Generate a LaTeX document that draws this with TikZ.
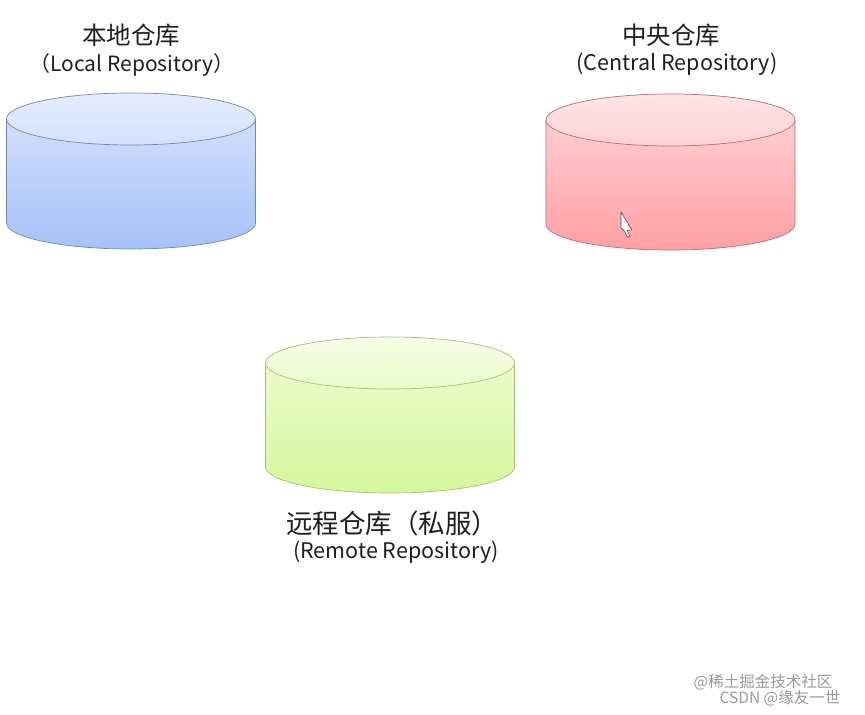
\documentclass[tikz,border=0pt]{standalone}
\usepackage{fontspec}
\setmainfont{Noto Sans CJK SC}
\definecolor{bbt}{RGB}{216,228,252}
\definecolor{bbb}{RGB}{166,194,248}
\definecolor{bet}{RGB}{229,237,253}
\definecolor{beb}{RGB}{212,225,252}
\definecolor{bl}{RGB}{118,134,170}
\definecolor{rbt}{RGB}{255,214,217}
\definecolor{rbb}{RGB}{255,160,163}
\definecolor{ret}{RGB}{255,228,231}
\definecolor{reb}{RGB}{255,210,213}
\definecolor{rl}{RGB}{176,112,118}
\definecolor{gbt}{RGB}{240,251,212}
\definecolor{gbb}{RGB}{212,247,156}
\definecolor{get}{RGB}{247,253,228}
\definecolor{geb}{RGB}{236,251,205}
\definecolor{gl}{RGB}{168,190,122}
\newcommand\repocyl[4]{%
  \shade[top color=#2bt, bottom color=#2bb]
    (#1-124.5,#3) -- ++(0,-104)
    arc[start angle=180,end angle=360,x radius=124.5pt,y radius=26pt]
    -- ++(0,104)
    arc[start angle=0,end angle=180,x radius=124.5pt,y radius=26pt] -- cycle;
  \draw[cyledge, draw=#2l]
    (#1-124.5,#3) -- ++(0,-104)
    arc[start angle=180,end angle=360,x radius=124.5pt,y radius=26pt]
    -- ++(0,104);
  \shade[top color=#2et, bottom color=#2eb, draw=#2l, cyledge]
    (#1,#3) ellipse[x radius=124.5pt,y radius=26pt];
  \coordinate (#4) at (#1,#3-52);
}
\begin{document}
\begin{tikzpicture}[x=1pt,y=1pt,
  cyledge/.style={line width=0.7pt},
  title/.style={font=\fontsize{24.5}{28}\selectfont, text=black!88, inner sep=0pt},
  sub/.style={font=\fontsize{21.5}{25}\selectfont, text=black!88, inner sep=0pt},
  wmark/.style={font=\fontsize{15.5}{18}\selectfont, text=black!40, inner sep=0pt}]
\fill[white] (0,0) rectangle (865,715);
\useasboundingbox (0,0) rectangle (865,715);

\repocyl{131}{b}{596}{local}
\repocyl{670.5}{r}{595}{central}
\repocyl{390}{g}{352}{remote}

\node[title] (localzh) at (131,680) {本地仓库};
\node[sub, font=\fontsize{21}{25}\selectfont] (localen) at (132,650) {（Local Repository）};
\node[title] (centralzh) at (671,680) {中央仓库};
\node[sub] (centralen) at (677,651) {(Central Repository)};
\node[title, font=\fontsize{26.5}{30}\selectfont] (remotezh) at (392,192) {远程仓库（私服）};
\node[sub] (remoteen) at (396,163) {(Remote Repository)};

% mouse pointer
\draw[fill=white, draw=black!70, line width=0.6pt, line join=round]
  (621,503) -- ++(0,-16) -- ++(3.6,-3.4) -- ++(3,-6) -- ++(2.4,1.2)
  -- ++(-3,6) -- ++(5,0) -- cycle;

\node[wmark] (wm1) at (763,33) {@稀土掘金技术社区};
\node[wmark] (wm2) at (780,17) {CSDN @缘友一世};
\end{tikzpicture}
\end{document}
